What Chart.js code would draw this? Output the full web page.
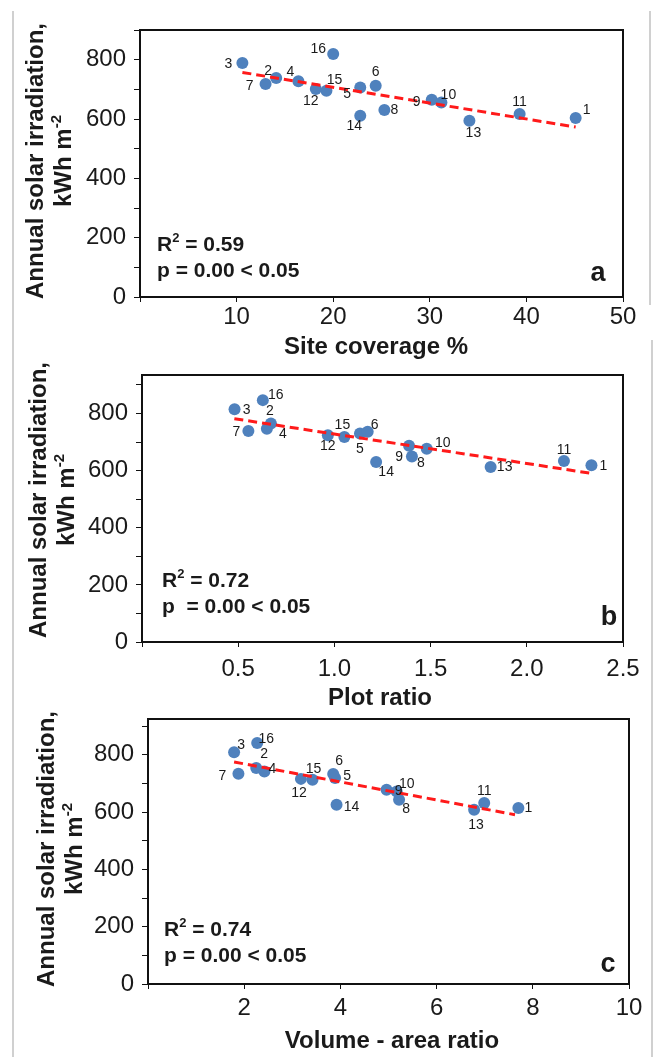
<!DOCTYPE html>
<html>
<head>
<meta charset="utf-8">
<script src="https://cdn.jsdelivr.net/npm/chart.js@4.4.0/dist/chart.umd.min.js"></script>
<style>
  html, body { margin: 0; padding: 0; background: #fff; }
  #page { position: relative; width: 653px; height: 1057px; overflow: hidden; background: #fff; }
  #page canvas { position: absolute; left: 0; top: 0; }
  .rule { position: absolute; width: 2px; background: #d0d0d0; }
</style>
</head>
<body>
<div id="page">
  <div class="rule" style="left:12px;top:11px;height:1046px"></div>
  <div class="rule" style="left:649px;top:11px;height:294px"></div>
  <div class="rule" style="left:651px;top:340px;height:717px"></div>
  <canvas id="chartA" width="653" height="1057"></canvas>
  <canvas id="chartB" width="653" height="1057"></canvas>
  <canvas id="chartC" width="653" height="1057"></canvas>
</div>
<script>
// sites 1..16
const siteIds = ['1','2','3','4','5','6','7','8','9','10','11','12','13','14','15','16'];

// (a) site coverage %
const siteCoverage = [45.1, 14.1, 10.6, 16.4, 22.8, 24.4, 13.0, 25.3, 30.2, 31.2, 39.3, 18.2, 34.1, 22.8, 19.3, 20.0];
const irradiationA = [603, 738, 789, 727, 706, 712, 718, 630, 665, 656, 617, 701, 594, 611, 695, 819];
const coverageTrendX = [10.6, 45.1];
const coverageTrendY = [757, 573];

// (b) plot ratio
const plotRatio = [2.336, 0.670, 0.481, 0.649, 1.133, 1.173, 0.553, 1.403, 1.388, 1.480, 2.193, 0.966, 1.812, 1.217, 1.052, 0.628];
const irradiationB = [619, 765, 815, 747, 730, 736, 739, 650, 687, 677, 634, 724, 613, 630, 718, 847];
const plotTrendX = [0.48, 2.34];
const plotTrendY = [782, 590];

// (c) volume - area ratio
const volumeAreaRatio = [7.70, 2.25, 1.79, 2.42, 3.89, 3.85, 1.88, 5.22, 4.96, 5.17, 6.99, 3.18, 6.78, 3.92, 3.42, 2.27];
const irradiationC = [614, 754, 809, 742, 719, 733, 734, 643, 678, 672, 632, 716, 608, 626, 713, 841];
const volumeTrendX = [1.79, 7.63];
const volumeTrendY = [775, 591];

// fit statistics
const r2Values = ['0.59', '0.72', '0.74'];
const pTexts = ['p = 0.00 < 0.05', 'p  = 0.00 < 0.05', 'p = 0.00 < 0.05'];

// where each site number sits relative to its marker (px)
const labelOffsetsA = [[11,-8],[-8,-7],[-14,1],[-8,-9],[-13,7],[0,-14],[-16,2],[10,0],[-15,2],[7,-7],[0,-12],[-5,12],[4,12],[-6,10],[8,-11],[-15,-5]];
const labelOffsetsB = [[12,1],[-1,-12],[12,1],[16,5],[0,16],[7,-7],[-12,1],[9,7],[-10,11],[16,-6],[0,-11],[0,11],[14,0],[10,10],[-2,-12],[13,-5]];
const labelOffsetsC = [[10,0],[8,-14],[7,-7],[8,-2],[12,-2],[6,-13],[-16,2],[7,9],[12,1],[10,-7],[0,-12],[-2,14],[2,15],[15,2],[1,-11],[9,-4]];

const FONT = '"Liberation Sans", Arial, sans-serif';
const INK = '#1a1a1a';
const W = 653, H = 1057;
const Y_AXIS_W = 70, X_AXIS_H = 45;

function zip(xs, ys) {
  return xs.map((x, i) => ({ x, y: ys[i] }));
}

// draws a run of [text, isSuperscript] pieces, left aligned, baseline middle
function drawRuns(ctx, runs, x, y, size, bold) {
  const w = bold ? 'bold ' : '';
  let cx = x;
  runs.forEach(([txt, sup]) => {
    const s = sup ? Math.round(size * 0.62) : size;
    ctx.font = w + s + 'px ' + FONT;
    ctx.fillText(txt, cx, sup ? y - size * 0.3 : y);
    cx += ctx.measureText(txt).width;
  });
}
function runsWidth(ctx, runs, size, bold) {
  const w = bold ? 'bold ' : '';
  return runs.reduce((acc, [txt, sup]) => {
    ctx.font = w + (sup ? Math.round(size * 0.62) : size) + 'px ' + FONT;
    return acc + ctx.measureText(txt).width;
  }, 0);
}

const pointLabels = {
  id: 'pointLabels',
  afterDatasetsDraw(chart, args, opts) {
    const ctx = chart.ctx;
    const meta = chart.getDatasetMeta(1);
    ctx.save();
    ctx.font = '14px ' + FONT;
    ctx.fillStyle = INK;
    ctx.textAlign = 'center';
    ctx.textBaseline = 'middle';
    meta.data.forEach((pt, i) => {
      const [dx, dy] = opts.offsets[i];
      ctx.fillText(opts.labels[i], pt.x + dx, pt.y + dy);
    });
    ctx.restore();
  }
};

const panelDecor = {
  id: 'panelDecor',
  beforeDatasetsDraw(chart) {
    const a = chart.chartArea, ctx = chart.ctx;
    ctx.save();
    ctx.strokeStyle = '#111';
    ctx.lineWidth = 2;
    ctx.strokeRect(a.left, a.top, a.right - a.left, a.bottom - a.top);
    ctx.restore();
  },
  afterDraw(chart, args, o) {
    const a = chart.chartArea, ctx = chart.ctx;
    ctx.save();
    ctx.fillStyle = INK;
    ctx.textBaseline = 'middle';
    ctx.textAlign = 'left';

    // fit statistics
    drawRuns(ctx, [['R', false], ['2', true], [' = ' + o.r2, false]], a.left + o.statX, a.bottom - o.r2Y, 21, true);
    ctx.font = 'bold 21px ' + FONT;
    ctx.fillText(o.pText, a.left + o.statX, a.bottom - o.pY);

    // panel letter
    ctx.textAlign = 'center';
    ctx.font = 'bold 27px ' + FONT;
    ctx.fillText(o.letter, a.right - o.letterPos[0], a.bottom - o.letterPos[1]);

    // x axis title
    ctx.font = 'bold 24px ' + FONT;
    ctx.fillText(o.xTitle, o.xTitlePos[0], o.xTitlePos[1]);

    // y axis title, two rotated lines
    ctx.translate(0, o.yTitleY);
    ctx.rotate(-Math.PI / 2);
    ctx.fillText('Annual solar irradiation,', 0, o.yTitleX[0]);
    const unit = [['kWh m', false], ['-2', true]];
    const uw = runsWidth(ctx, unit, 24, true);
    ctx.textAlign = 'left';
    drawRuns(ctx, unit, -uw / 2, o.yTitleX[1], 24, true);
    ctx.restore();
  }
};

const panels = [
  {
    canvas: 'chartA', xs: siteCoverage, ys: irradiationA, trendX: coverageTrendX, trendY: coverageTrendY,
    offsets: labelOffsetsA, xMax: 50, xStep: 10, yMax: 900, fmt: v => String(v),
    area: { left: 140, right: 623, top: 30, bottom: 297 }, xPad: 3,
    decor: { r2: r2Values[0], pText: pTexts[0], letter: 'a', statX: 17, r2Y: 52, pY: 26, letterPos: [25, 23],
             xTitle: 'Site coverage %', xTitlePos: [376, 347], yTitleX: [36, 64], yTitleY: 161 }
  },
  {
    canvas: 'chartB', xs: plotRatio, ys: irradiationB, trendX: plotTrendX, trendY: plotTrendY,
    offsets: labelOffsetsB, xMax: 2.5, xStep: 0.5, yMax: 935, fmt: v => v.toFixed(1),
    area: { left: 142, right: 623, top: 375, bottom: 642 }, xPad: 10,
    decor: { r2: r2Values[1], pText: pTexts[1], letter: 'b', statX: 20, r2Y: 61, pY: 35, letterPos: [14, 24],
             xTitle: 'Plot ratio', xTitlePos: [380, 698], yTitleX: [39, 67], yTitleY: 500 }
  },
  {
    canvas: 'chartC', xs: volumeAreaRatio, ys: irradiationC, trendX: volumeTrendX, trendY: volumeTrendY,
    offsets: labelOffsetsC, xMax: 10, xStep: 2, yMax: 925, fmt: v => String(v),
    area: { left: 148, right: 629, top: 719, bottom: 984 }, xPad: 7,
    decor: { r2: r2Values[2], pText: pTexts[2], letter: 'c', statX: 16, r2Y: 54, pY: 28, letterPos: [21, 19],
             xTitle: 'Volume - area ratio', xTitlePos: [392, 1041], yTitleX: [47, 75], yTitleY: 849 }
  }
];

panels.forEach(p => {
  const tickFont = { family: FONT, size: 24, lineHeight: 1 };
  new Chart(document.getElementById(p.canvas), {
    type: 'scatter',
    data: {
      datasets: [
        {
          label: 'trend',
          data: zip(p.trendX, p.trendY),
          showLine: true,
          borderColor: '#ff1a1a',
          borderWidth: 3,
          borderDash: [9, 5],
          pointRadius: 0,
          order: 0
        },
        {
          label: 'sites',
          data: zip(p.xs, p.ys),
          backgroundColor: '#4f81bd',
          borderWidth: 0,
          pointRadius: 6,
          pointHoverRadius: 6,
          order: 1
        }
      ]
    },
    options: {
      responsive: false,
      animation: false,
      events: [],
      layout: {
        // axis boxes get a fixed size so the plot frame lands where it should
        padding: {
          left: p.area.left - Y_AXIS_W,
          right: W - p.area.right,
          top: p.area.top,
          bottom: H - p.area.bottom - X_AXIS_H
        }
      },
      scales: {
        x: {
          type: 'linear', min: 0, max: p.xMax,
          afterFit: s => { s.height = X_AXIS_H; },
          border: { display: true, color: '#111', width: 2 },
          grid: { drawOnChartArea: false, drawTicks: true, tickLength: 5, color: '#111' },
          ticks: {
            stepSize: p.xStep, autoSkip: false, includeBounds: false, maxRotation: 0,
            padding: p.xPad, color: INK, font: tickFont,
            callback: v => v === 0 ? '' : p.fmt(v)
          }
        },
        y: {
          type: 'linear', min: 0, max: p.yMax,
          afterFit: s => { s.width = Y_AXIS_W; },
          border: { display: true, color: '#111', width: 2 },
          grid: { drawOnChartArea: false, drawTicks: true, tickLength: 6, color: '#111' },
          ticks: {
            stepSize: 100, autoSkip: false, includeBounds: false,
            padding: 8, color: INK, font: tickFont,
            callback: v => v % 200 === 0 ? String(v) : ''
          }
        }
      },
      plugins: {
        legend: { display: false },
        tooltip: { enabled: false },
        pointLabels: { labels: siteIds, offsets: p.offsets },
        panelDecor: p.decor
      }
    },
    plugins: [panelDecor, pointLabels]
  });
});
</script>
</body>
</html>
